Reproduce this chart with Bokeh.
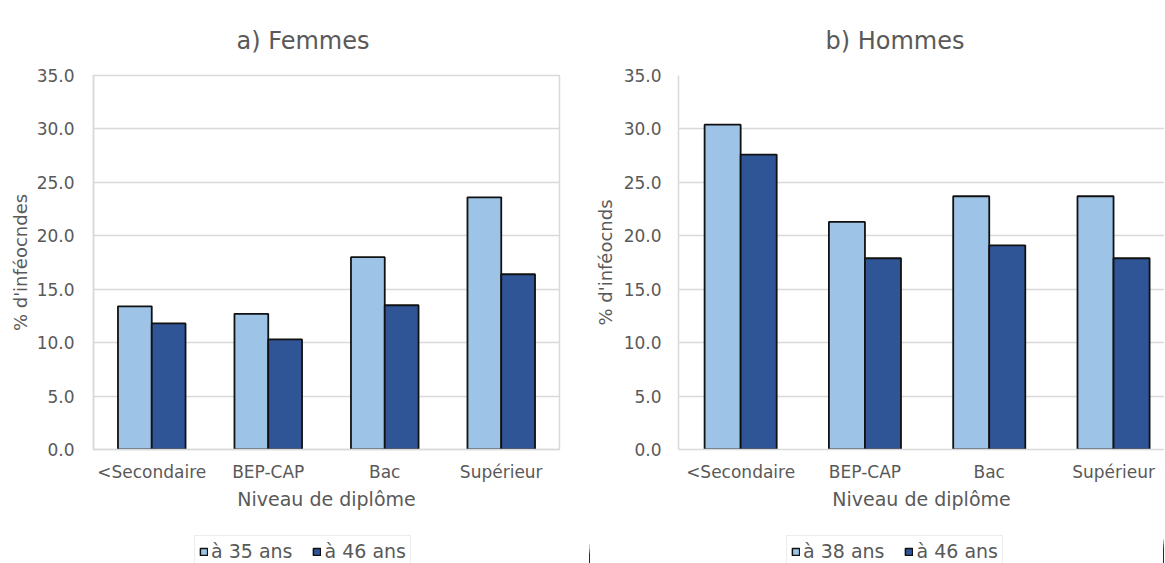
from bokeh.plotting import figure
from bokeh.layouts import row, column
from bokeh.models import Range1d, FixedTicker, Legend, LegendItem, PrintfTickFormatter
from bokeh.embed import file_html
from bokeh.resources import INLINE
import numpy as np

categories = ["<Secondaire", "BEP-CAP", "Bac", "Supérieur"]
femmes_35 = [13.4, 12.7, 18.0, 23.6]
femmes_46 = [11.8, 10.3, 13.5, 16.4]
hommes_38 = [30.4, 21.3, 23.7, 23.7]
hommes_46 = [27.6, 17.9, 19.1, 17.9]
y_ticks = [0, 5, 10, 15, 20, 25, 30, 35]

LIGHT = "#9DC3E6"
DARK = "#2F5597"
GRID = "#D9D9D9"
TEXT = "#595959"
EDGE = "#111111"
FONT = "DejaVu Sans"
H = 535      # chart height
HL = 28      # legend strip height
BW = 0.29


def make_panel(title, ylabel, s1, s2, width, min_left, min_right,
               x_end, title_offset, outline, ylab_standoff, tick_standoff,
               frame_top, frame_bottom):
    p = figure(width=width, height=H, output_backend="svg", toolbar_location=None,
               x_range=Range1d(0, x_end), y_range=Range1d(0, 35), title=title,
               min_border_left=min_left, min_border_right=min_right,
               min_border_top=frame_top, min_border_bottom=H - frame_bottom)
    p.title.align = "left"
    p.title.offset = title_offset
    p.title.standoff = 42
    p.title.text_font = FONT
    p.title.text_font_size = "24px"
    p.title.text_font_style = "normal"
    p.title.text_color = TEXT

    x = np.arange(len(categories)) + 0.5
    p.vbar(x=x - BW / 2, top=s1, width=BW, fill_color=LIGHT, line_color=EDGE, line_width=1.8)
    p.vbar(x=x + BW / 2, top=s2, width=BW, fill_color=DARK, line_color=EDGE, line_width=1.8)

    p.xaxis.ticker = FixedTicker(ticks=list(x))
    p.xaxis.major_label_overrides = {float(v): c for v, c in zip(x, categories)}
    p.xaxis.axis_label = "Niveau de diplôme"
    p.yaxis.axis_label = ylabel
    p.yaxis.ticker = FixedTicker(ticks=y_ticks)
    p.yaxis.formatter = PrintfTickFormatter(format="%.1f")

    for ax in (p.xaxis, p.yaxis):
        ax.major_tick_line_color = None
        ax.minor_tick_line_color = None
        ax.major_tick_in = 0
        ax.major_tick_out = 0
        ax.axis_line_color = GRID
        ax.axis_line_width = 1.5
        ax.major_label_text_font = FONT
        ax.major_label_text_font_size = "17px"
        ax.major_label_text_color = TEXT
        ax.axis_label_text_font = FONT
        ax.axis_label_text_font_style = "normal"
        ax.axis_label_text_color = TEXT
    p.xaxis.axis_label_text_font_size = "19px"
    p.yaxis.axis_label_text_font_size = "18px"
    p.xaxis.major_label_standoff = 12
    p.xaxis.axis_label_standoff = 3
    p.yaxis.major_label_standoff = tick_standoff
    p.yaxis.axis_label_standoff = ylab_standoff

    p.xgrid.grid_line_color = None
    p.ygrid.grid_line_color = GRID
    p.ygrid.grid_line_width = 1.5
    p.ygrid.ticker = FixedTicker(ticks=y_ticks)

    if outline:
        p.outline_line_color = GRID
        p.outline_line_width = 1.5
    else:
        p.outline_line_color = None
    return p


def make_legend(width, lab1, s1, lab2, s2, left):
    # legend strip: same series, drawn outside the visible range so only the legend shows
    lf = figure(width=width, height=HL, output_backend="svg", toolbar_location=None,
                x_range=Range1d(-10, -9), y_range=Range1d(0, 35),
                x_axis_type=None, y_axis_type=None,
                min_border_left=0, min_border_right=0, min_border_top=0, min_border_bottom=0)
    lf.outline_line_color = None
    x = np.arange(len(categories)) + 0.5
    r1 = lf.vbar(x=x - BW / 2, top=s1, width=BW, fill_color=LIGHT, line_color=EDGE, line_width=1.5)
    r2 = lf.vbar(x=x + BW / 2, top=s2, width=BW, fill_color=DARK, line_color=EDGE, line_width=1.5)
    legend = Legend(items=[LegendItem(label=lab1, renderers=[r1]),
                           LegendItem(label=lab2, renderers=[r2])],
                    orientation="horizontal", location=(left, -4),
                    glyph_width=9, glyph_height=9, label_standoff=3, spacing=20,
                    padding=4, margin=0,
                    label_text_font=FONT, label_text_font_size="19px", label_text_color=TEXT,
                    border_line_color=GRID, border_line_width=1.5,
                    background_fill_color="white", background_fill_alpha=1.0)
    lf.add_layout(legend, "center")
    return lf


p1 = make_panel("a) Femmes", "% d'inféocndes", femmes_35, femmes_46,
                width=590, min_left=93, min_right=31, x_end=4.0, title_offset=143,
                outline=True, ylab_standoff=3, tick_standoff=19,
                frame_top=74, frame_bottom=451)
p2 = make_panel("b) Hommes", "% d'inféocnds", hommes_38, hommes_46,
                width=574, min_left=88, min_right=0, x_end=3.91, title_offset=147,
                outline=False, ylab_standoff=5, tick_standoff=17,
                frame_top=75, frame_bottom=449)
l1 = make_legend(590, "à 35 ans", femmes_35, "à 46 ans", femmes_46, 194)
l2 = make_legend(574, "à 38 ans", hommes_38, "à 46 ans", hommes_46, 196)

layout = column(row(p1, p2), row(l1, l2))
open("out.html", "w").write(file_html(layout, INLINE))
